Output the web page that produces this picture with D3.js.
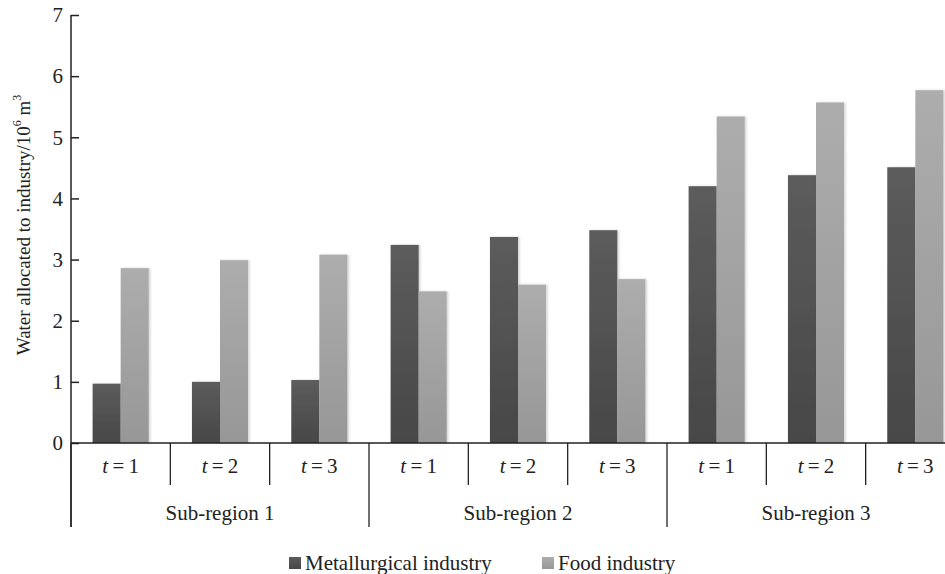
<!DOCTYPE html>
<html>
<head>
<meta charset="utf-8">
<script src="https://cdn.jsdelivr.net/npm/d3@7"></script>
<style>
  html, body { margin: 0; padding: 0; background: #fff; overflow: hidden; }
  svg { display: block; font-family: "Liberation Serif", "Times New Roman", serif; }
</style>
</head>
<body>
<svg id="chart" width="945" height="574"></svg>
<script>
// Water allocation per sub-region and planning period
const regions = ["Sub-region 1", "Sub-region 2", "Sub-region 3"];
const periods = ["1", "2", "3"];
const seriesNames = ["Metallurgical industry", "Food industry"];
const metallurgical = [0.97, 1.00, 1.03, 3.24, 3.37, 3.48, 4.20, 4.38, 4.51];
const food = [2.86, 2.99, 3.08, 2.48, 2.59, 2.68, 5.34, 5.57, 5.77];
const yTicks = [0, 1, 2, 3, 4, 5, 6, 7];

const svg = d3.select("#chart");

// layout
const M = { left: 71, right: 965, top: 15, base: 443, shortDrop: 485, longDrop: 527 };
const FS = 21;

// one cell per (region, period)
const cells = [];
regions.forEach((r, ri) => periods.forEach((p, pi) => cells.push({ region: r, ri, period: p, idx: ri * periods.length + pi })));

const x = d3.scaleBand().domain(cells.map(c => c.idx)).range([M.left, M.right]).paddingInner(0).paddingOuter(0);
const inner = d3.scaleBand().domain(seriesNames).range([0, x.bandwidth()]).paddingInner(0).paddingOuter(0.77);
const y = d3.scaleLinear().domain([0, 7]).range([M.base, M.top]);

const colors = { "Metallurgical industry": "mgDark", "Food industry": "mgLight" };

// bar fills
const defs = svg.append("defs");
function grad(id, c1, c2) {
  const g = defs.append("linearGradient").attr("id", id).attr("x1", 0).attr("y1", 0).attr("x2", 0).attr("y2", 1);
  g.append("stop").attr("offset", "0%").attr("stop-color", c1);
  g.append("stop").attr("offset", "100%").attr("stop-color", c2);
}
grad("mgDark", "#5c5c5c", "#474747");
grad("mgLight", "#adadad", "#979797");
const sh = defs.append("filter").attr("id", "soft").attr("x", "-20%").attr("y", "-5%").attr("width", "140%").attr("height", "110%");
sh.append("feDropShadow").attr("dx", 1.5).attr("dy", 0).attr("stdDeviation", 1.2).attr("flood-color", "#000").attr("flood-opacity", 0.18);

// bars
const rows = cells.map(c => ({ cell: c, values: [
  { name: seriesNames[0], v: metallurgical[c.idx] },
  { name: seriesNames[1], v: food[c.idx] }
]}));

const gBars = svg.append("g");
rows.forEach(row => {
  gBars.selectAll(null).data(row.values).enter().append("rect")
    .attr("x", d => x(row.cell.idx) + inner(d.name))
    .attr("y", d => y(d.v))
    .attr("width", inner.bandwidth())
    .attr("height", d => y(0) - y(d.v))
    .attr("fill", d => `url(#${colors[d.name]})`)
    .attr("filter", "url(#soft)");
});

// y axis (ticks pointing inward)
const yAxis = d3.axisRight(y).tickValues(yTicks).tickSize(8).tickFormat("");
const gy = svg.append("g").attr("transform", `translate(${M.left},0)`).call(yAxis);
gy.select(".domain").remove();
gy.selectAll(".tick line").attr("stroke", "#222").attr("stroke-width", 1.5);
svg.append("line").attr("x1", M.left).attr("x2", M.left).attr("y1", M.top).attr("y2", M.longDrop)
  .attr("stroke", "#222").attr("stroke-width", 1.5);
svg.append("g").selectAll("text").data(yTicks).enter().append("text")
  .attr("x", M.left - 8).attr("y", d => y(d)).attr("dy", "0.35em")
  .attr("text-anchor", "end").attr("font-size", FS).attr("fill", "#222")
  .text(d => d);

// y title
svg.append("text")
  .attr("transform", `translate(23,225) rotate(-90)`)
  .attr("text-anchor", "middle").attr("dy", "0.35em")
  .attr("font-size", 19).attr("fill", "#222")
  .call(t => {
    t.append("tspan").text("Water allocated to industry/10");
    t.append("tspan").attr("font-size", 12).attr("dy", "-0.7em").text("6");
    t.append("tspan").attr("dy", "0.45em").text(" m");
    t.append("tspan").attr("font-size", 12).attr("dy", "-0.7em").text("3");
  });

// x baseline
svg.append("line").attr("x1", M.left).attr("x2", M.right).attr("y1", M.base).attr("y2", M.base)
  .attr("stroke", "#222").attr("stroke-width", 1.5);

// cell separators
const bounds = d3.range(cells.length + 1);
svg.append("g").selectAll("line").data(bounds).enter().append("line")
  .attr("x1", i => M.left + i * x.step()).attr("x2", i => M.left + i * x.step())
  .attr("y1", M.base).attr("y2", i => i % periods.length === 0 ? M.longDrop : M.shortDrop)
  .attr("stroke", "#222").attr("stroke-width", 1.3);

// period labels
svg.append("g").selectAll("text").data(cells).enter().append("text")
  .attr("x", c => x(c.idx) + x.bandwidth() / 2).attr("y", 466).attr("dy", "0.35em")
  .attr("text-anchor", "middle").attr("font-size", FS).attr("fill", "#222")
  .call(t => {
    t.append("tspan").attr("font-style", "italic").text("t");
    t.append("tspan").text(c => "\u2009=\u2009" + c.period);
  });

// region labels
svg.append("g").selectAll("text").data(regions).enter().append("text")
  .attr("x", (r, i) => x(i * periods.length) + x.step() * periods.length / 2)
  .attr("y", 513).attr("dy", "0.35em")
  .attr("text-anchor", "middle").attr("font-size", FS).attr("fill", "#222")
  .text(r => r);

// legend
const legendX = [289, 542];
const lg = svg.append("g").selectAll("g").data(seriesNames).enter().append("g")
  .attr("transform", (d, i) => `translate(${legendX[i]},557)`);
lg.append("rect").attr("width", 12).attr("height", 12).attr("fill", d => `url(#${colors[d]})`);
lg.append("text").attr("x", 16).attr("y", 6).attr("dy", "0.35em")
  .attr("font-size", FS).attr("fill", "#222").text(d => d);
</script>
</body>
</html>
